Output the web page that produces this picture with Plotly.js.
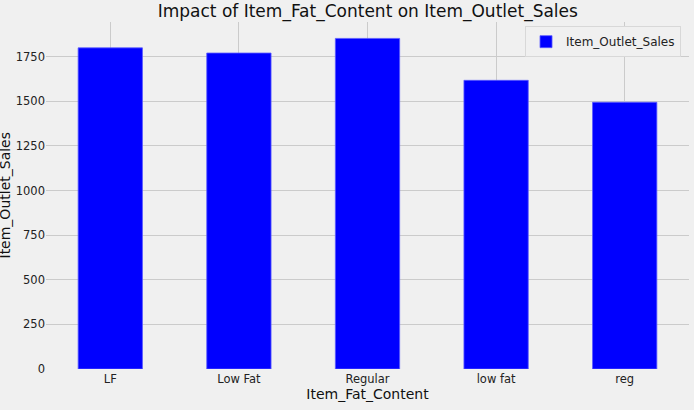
<!DOCTYPE html>
<html>
<head>
<meta charset="utf-8">
<script src="https://cdn.plot.ly/plotly-3.0.1.min.js"></script>
<style>
  html, body { margin: 0; padding: 0; background: #f0f0f0; }
  #chart { width: 694px; height: 410px; }
</style>
</head>
<body>
<div id="chart"></div>
<script>
const categories = ["LF", "Low Fat", "Regular", "low fat", "reg"];
const sales = [1800, 1771, 1853, 1618, 1495];
const yTicks = [0, 250, 500, 750, 1000, 1250, 1500, 1750];

const font = "DejaVu Sans, sans-serif";

const traces = [{
    type: "bar",
    x: categories,
    y: sales,
    width: 0.5,
    name: "Item_Outlet_Sales",
    showlegend: true,
    marker: {
        color: "#0000ff",
        line: { color: "rgba(90,90,255,0.8)", width: 1 }
    }
}];

const layout = {
    width: 694,
    height: 410,
    margin: { l: 46, r: 5, t: 22, b: 41 },
    paper_bgcolor: "#f0f0f0",
    plot_bgcolor: "#f0f0f0",
    font: { family: font, color: "#222", size: 11.5 },
    title: {
        text: "Impact of Item_Fat_Content on Item_Outlet_Sales",
        font: { size: 17, color: "#111" },
        x: 0.53,
        xanchor: "center",
        yref: "container",
        y: 0.974,
        yanchor: "middle"
    },
    xaxis: {
        type: "category",
        range: [-0.5, 4.5],
        showgrid: true,
        gridcolor: "#cbcbcb",
        gridwidth: 1,
        ticks: "",
        ticklabelstandoff: 1,
        tickfont: { size: 11.5, color: "#222" },
        title: { text: "Item_Fat_Content", font: { size: 14, color: "#111" }, standoff: 4 },
        zeroline: false,
        showline: false
    },
    yaxis: {
        range: [0, 1945],
        tickvals: yTicks,
        showgrid: true,
        gridcolor: "#cbcbcb",
        gridwidth: 1,
        ticks: "",
        tickfont: { size: 11.5, color: "#222" },
        zeroline: false,
        showline: false
    },
    annotations: [{
        text: "Item_Outlet_Sales",
        xref: "paper",
        yref: "paper",
        x: 0,
        y: 0.5,
        xanchor: "center",
        yanchor: "middle",
        xshift: -42,
        textangle: -90,
        showarrow: false,
        font: { size: 14, color: "#111", family: font }
    }],
    legend: {
        x: 0.9876,
        xanchor: "right",
        y: 0.988,
        yanchor: "top",
        bgcolor: "#f0f0f0",
        bordercolor: "#d8d8d8",
        borderwidth: 1,
        font: { size: 12, color: "#222" }
    },
    bargap: 0.5
};

Plotly.newPlot("chart", traces, layout, { displayModeBar: false, staticPlot: true });
</script>
</body>
</html>
